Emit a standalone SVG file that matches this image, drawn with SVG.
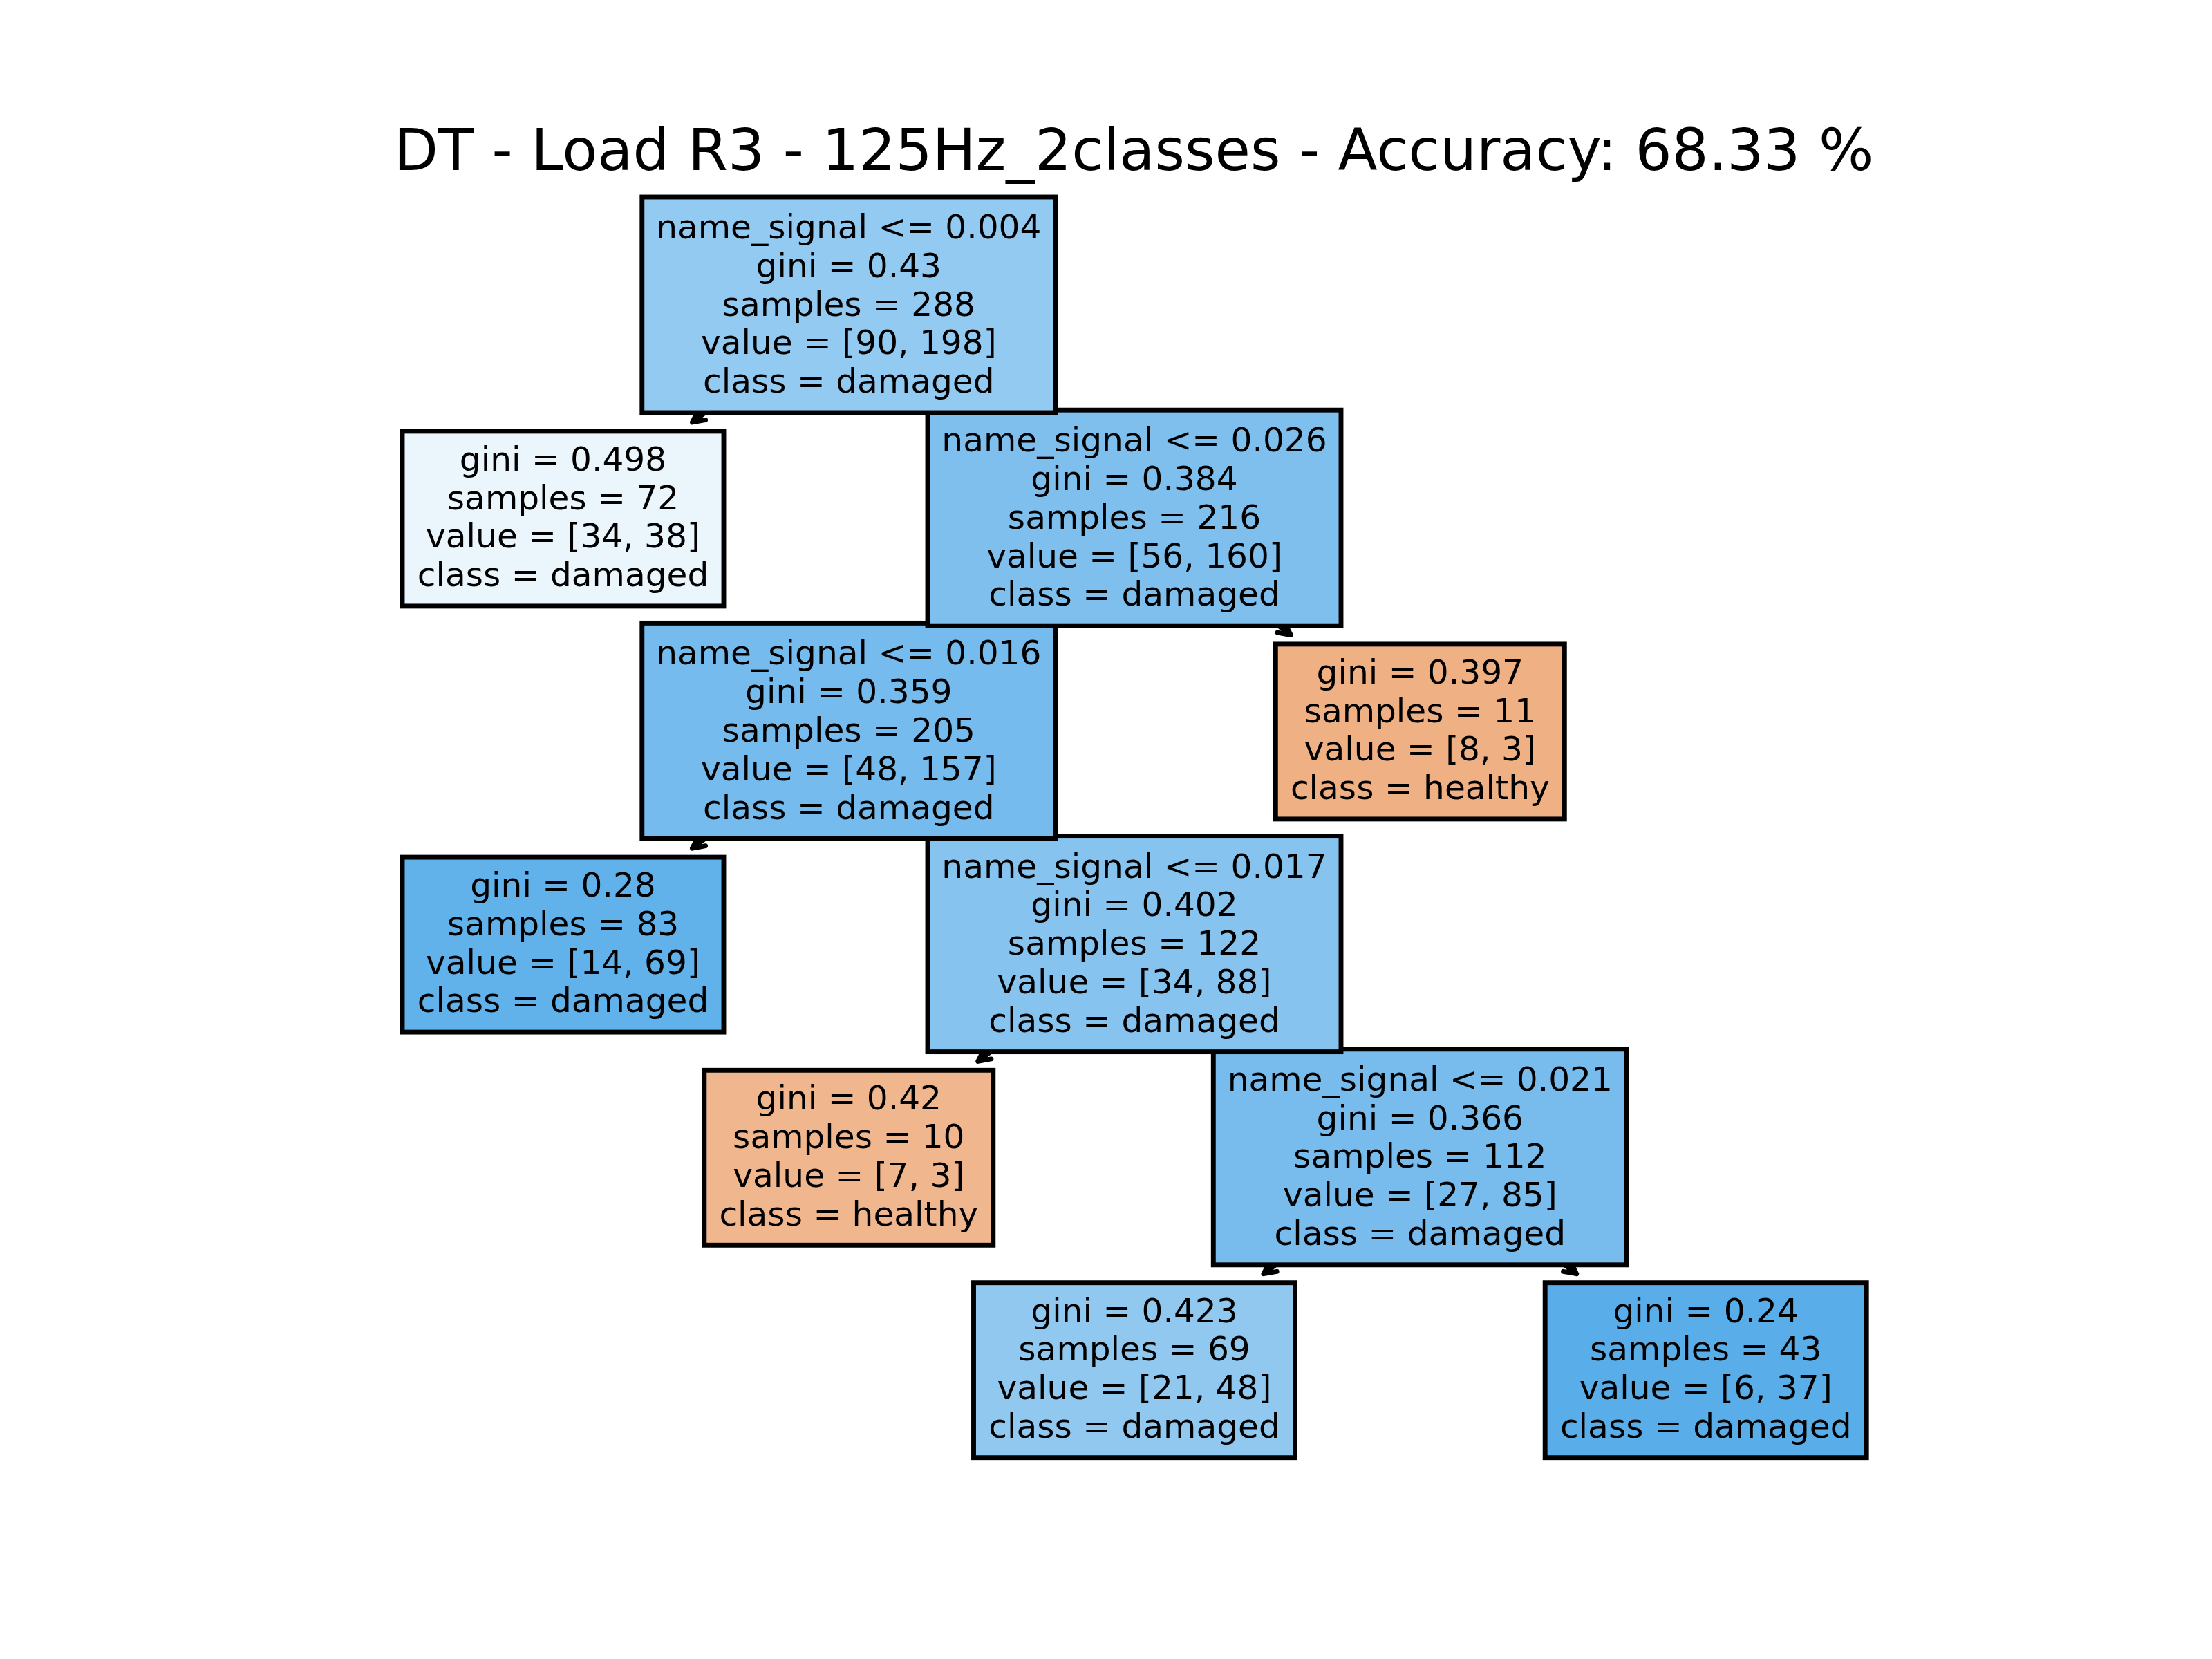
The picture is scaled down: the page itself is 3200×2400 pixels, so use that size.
<svg xmlns="http://www.w3.org/2000/svg" width="3200" height="2400" viewBox="0 0 3200 2400">
<style>
.bg{fill:#ffffff}
.box{stroke:#000000;stroke-width:6.9}
.t{font-family:"DejaVu Sans","Liberation Sans",sans-serif;font-size:48.6px;fill:#000000;text-anchor:middle}
.title{font-family:"DejaVu Sans","Liberation Sans",sans-serif;font-size:83.5px;fill:#000000;text-anchor:middle}
.edge{fill:none;stroke:#000000;stroke-width:6.9;stroke-linecap:round;stroke-linejoin:round}
</style>
<rect class="bg" x="0" y="0" width="3200" height="2400"/>
<text class="title" x="1640" y="246">DT - Load R3 - 125Hz_2classes - Accuracy: 68.33 %</text>
<g id="connectors">
<path class="edge" d="M1395.6,577 L1414.7,580.4 L1406,563.1 M1414.7,580.4 L1227.8,441"/>
<path class="edge" d="M1020.6,607.5 L1001.5,610.9 L1010.2,593.6 M1001.5,610.9 L1227.8,441"/>
<path class="edge" d="M1473.2,885.2 L1454.1,888.6 L1462.8,871.3 M1454.1,888.6 L1641,749.2"/>
<path class="edge" d="M1848.2,915.1 L1867.3,918.5 L1858.6,901.2 M1867.3,918.5 L1641,749.2"/>
<path class="edge" d="M1020.6,1223.7 L1001.5,1227.1 L1010.2,1209.8 M1001.5,1227.1 L1227.8,1057.4"/>
<path class="edge" d="M1395.6,1193.4 L1414.7,1196.8 L1406,1179.5 M1414.7,1196.8 L1227.8,1057.4"/>
<path class="edge" d="M1433.9,1531.9 L1414.8,1535.3 L1423.5,1518 M1414.8,1535.3 L1641,1365.6"/>
<path class="edge" d="M1808.9,1501.6 L1828,1505 L1819.3,1487.7 M1828,1505 L1641,1365.6"/>
<path class="edge" d="M1847.1,1839.3 L1828,1842.7 L1836.7,1825.4 M1828,1842.7 L2054.3,1673.8"/>
<path class="edge" d="M2261.6,1839.3 L2280.7,1842.7 L2272,1825.4 M2280.7,1842.7 L2054.3,1673.8"/>
</g>
<g id="n9">
<rect class="box" x="1408.5" y="1855.7" width="465" height="253" fill="#90c8f0"/>
<text class="t" x="1641" y="1912.5">gini = 0.423</text>
<text class="t" x="1641" y="1968.3">samples = 69</text>
<text class="t" x="1641" y="2024.1">value = [21, 48]</text>
<text class="t" x="1641" y="2079.9">class = damaged</text>
</g>
<g id="n10">
<rect class="box" x="2235.2" y="1855.7" width="465" height="253" fill="#59ade9"/>
<text class="t" x="2467.7" y="1912.5">gini = 0.24</text>
<text class="t" x="2467.7" y="1968.3">samples = 43</text>
<text class="t" x="2467.7" y="2024.1">value = [6, 37]</text>
<text class="t" x="2467.7" y="2079.9">class = damaged</text>
</g>
<g id="n7">
<rect class="box" x="1018.8" y="1548.3" width="418" height="253" fill="#f0b78e"/>
<text class="t" x="1227.8" y="1605.1">gini = 0.42</text>
<text class="t" x="1227.8" y="1660.9">samples = 10</text>
<text class="t" x="1227.8" y="1716.7">value = [7, 3]</text>
<text class="t" x="1227.8" y="1772.5">class = healthy</text>
</g>
<g id="n8">
<rect class="box" x="1755.3" y="1517.8" width="598" height="312" fill="#78bced"/>
<text class="t" x="2054.3" y="1577.7">name_signal &lt;= 0.021</text>
<text class="t" x="2054.3" y="1633.5">gini = 0.366</text>
<text class="t" x="2054.3" y="1689.3">samples = 112</text>
<text class="t" x="2054.3" y="1745.1">value = [27, 85]</text>
<text class="t" x="2054.3" y="1800.9">class = damaged</text>
</g>
<g id="n5">
<rect class="box" x="582" y="1240.1" width="465" height="253" fill="#61b1ea"/>
<text class="t" x="814.5" y="1296.9">gini = 0.28</text>
<text class="t" x="814.5" y="1352.7">samples = 83</text>
<text class="t" x="814.5" y="1408.5">value = [14, 69]</text>
<text class="t" x="814.5" y="1464.3">class = damaged</text>
</g>
<g id="n6">
<rect class="box" x="1342" y="1209.6" width="598" height="312" fill="#86c3ef"/>
<text class="t" x="1641" y="1269.5">name_signal &lt;= 0.017</text>
<text class="t" x="1641" y="1325.3">gini = 0.402</text>
<text class="t" x="1641" y="1381.1">samples = 122</text>
<text class="t" x="1641" y="1436.9">value = [34, 88]</text>
<text class="t" x="1641" y="1492.7">class = damaged</text>
</g>
<g id="n3">
<rect class="box" x="928.8" y="901.4" width="598" height="312" fill="#76bbed"/>
<text class="t" x="1227.8" y="961.3">name_signal &lt;= 0.016</text>
<text class="t" x="1227.8" y="1017.1">gini = 0.359</text>
<text class="t" x="1227.8" y="1072.9">samples = 205</text>
<text class="t" x="1227.8" y="1128.7">value = [48, 157]</text>
<text class="t" x="1227.8" y="1184.5">class = damaged</text>
</g>
<g id="n4">
<rect class="box" x="1845.3" y="931.9" width="418" height="253" fill="#efb083"/>
<text class="t" x="2054.3" y="988.7">gini = 0.397</text>
<text class="t" x="2054.3" y="1044.5">samples = 11</text>
<text class="t" x="2054.3" y="1100.3">value = [8, 3]</text>
<text class="t" x="2054.3" y="1156.1">class = healthy</text>
</g>
<g id="n1">
<rect class="box" x="582" y="623.9" width="465" height="253" fill="#eaf5fc"/>
<text class="t" x="814.5" y="680.7">gini = 0.498</text>
<text class="t" x="814.5" y="736.5">samples = 72</text>
<text class="t" x="814.5" y="792.3">value = [34, 38]</text>
<text class="t" x="814.5" y="848.1">class = damaged</text>
</g>
<g id="n2">
<rect class="box" x="1342" y="593.2" width="598" height="312" fill="#7ebfee"/>
<text class="t" x="1641" y="653.1">name_signal &lt;= 0.026</text>
<text class="t" x="1641" y="708.9">gini = 0.384</text>
<text class="t" x="1641" y="764.7">samples = 216</text>
<text class="t" x="1641" y="820.5">value = [56, 160]</text>
<text class="t" x="1641" y="876.3">class = damaged</text>
</g>
<g id="n0">
<rect class="box" x="928.8" y="285" width="598" height="312" fill="#93caf1"/>
<text class="t" x="1227.8" y="344.9">name_signal &lt;= 0.004</text>
<text class="t" x="1227.8" y="400.7">gini = 0.43</text>
<text class="t" x="1227.8" y="456.5">samples = 288</text>
<text class="t" x="1227.8" y="512.3">value = [90, 198]</text>
<text class="t" x="1227.8" y="568.1">class = damaged</text>
</g>
</svg>
